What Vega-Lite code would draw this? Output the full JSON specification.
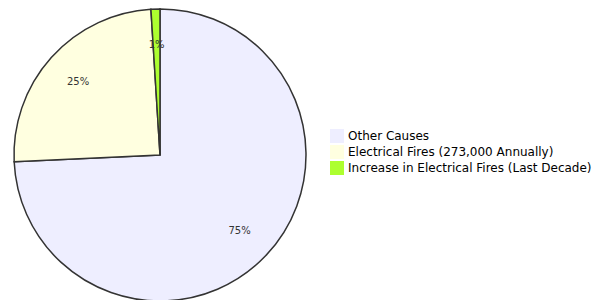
{
  "$schema": "https://vega.github.io/schema/vega-lite/v6.json",
  "width": 320,
  "height": 300,
  "padding": {"top": 5, "left": 0, "right": 0, "bottom": 0},
  "background": "white",
  "config": {"view": {"stroke": null}},
  "data": {
    "values": [
      {"cause": "Other Causes", "value": 75, "idx": 1},
      {"cause": "Electrical Fires (273,000 Annually)", "value": 25, "idx": 2},
      {"cause": "Increase in Electrical Fires (Last Decade)", "value": 1, "idx": 3}
    ]
  },
  "transform": [{"calculate": "datum.value + '%'", "as": "label"}],
  "encoding": {
    "theta": {"field": "value", "type": "quantitative", "stack": true},
    "order": {"field": "idx", "type": "quantitative"}
  },
  "layer": [
    {
      "mark": {"type": "arc", "outerRadius": 146, "stroke": "#333333", "strokeWidth": 1.5},
      "encoding": {
        "color": {
          "field": "cause",
          "type": "nominal",
          "scale": {
            "domain": ["Other Causes", "Electrical Fires (273,000 Annually)", "Increase in Electrical Fires (Last Decade)"],
            "range": ["#EEEEFF", "#FFFFE0", "#ADFF2F"]
          },
          "legend": {
            "orient": "none",
            "legendX": 330,
            "legendY": 124,
            "title": null,
            "symbolType": "square",
            "symbolSize": 196,
            "symbolStrokeWidth": 0,
            "symbolOpacity": 1,
            "labelFont": "DejaVu Sans",
            "labelFontSize": 12,
            "labelColor": "#000000",
            "labelOffset": 4,
            "rowPadding": 2,
            "labelLimit": 400
          }
        }
      }
    },
    {
      "mark": {"type": "text", "radius": 110, "font": "DejaVu Sans", "fontSize": 10, "fill": "#333333"},
      "encoding": {
        "detail": {"field": "cause", "type": "nominal"},
        "text": {"field": "label", "type": "nominal"}
      }
    }
  ]
}
